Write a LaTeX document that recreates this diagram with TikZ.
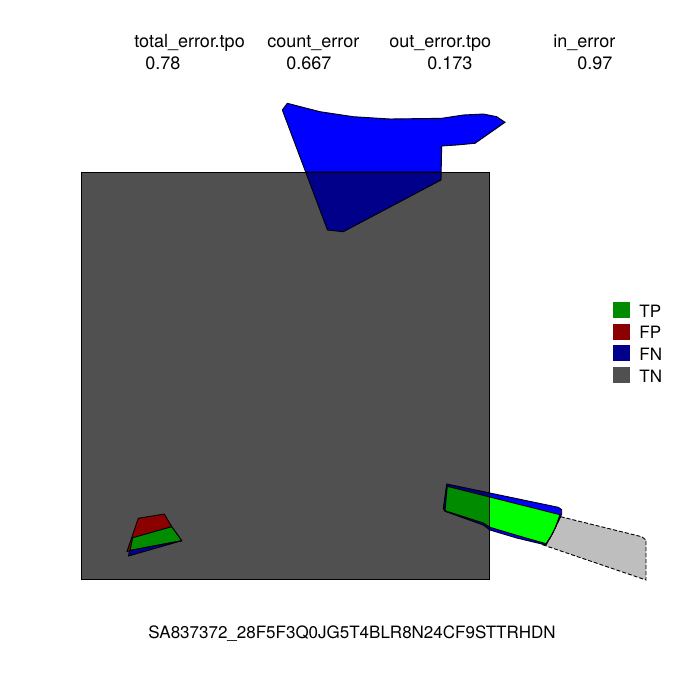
\documentclass[tikz,border=0pt]{standalone}
\usepackage{fontspec}
\setmainfont{TeX Gyre Heros}
\definecolor{tncol}{HTML}{505050}
\definecolor{fncol}{HTML}{00008B}
\definecolor{tpcol}{HTML}{008B00}
\definecolor{fpcol}{HTML}{8B0000}
\definecolor{lightgreen}{HTML}{00FF00}
\definecolor{lightgr}{HTML}{BEBEBE}
\newcommand{\TopPoly}[1]{\path[#1] (282.3,110) -- (287.3,103.3) -- (320,111.7) -- (353.3,116.7) -- (390,119) -- (441.7,118.3) -- (463.3,115) -- (483.3,114) -- (496.7,116.7) -- (505,122.3) -- (475,143.3) -- (456.7,145) -- (441.7,146) -- (441,180) -- (343.3,231.7) -- (327.5,230) -- cycle;}
\newcommand{\BRBlue}[1]{\path[#1] (446.7,484) -- (558.3,507.3) -- (561.7,509.7) -- (561.7,514) -- (555,528.3) -- (551.7,535) -- (546,545) -- (516.7,538) -- (490,530) -- (483.3,525) -- (445,511.3) -- (443.3,508.5) -- cycle;}
\newcommand{\BRGreen}[1]{\path[#1] (447.3,486.3) -- (560,514.7) -- (555,528.3) -- (551.7,535) -- (546,543.7) -- (516.7,535.3) -- (490,527.3) -- (483.3,523) -- (445,510.7) -- cycle;}
\begin{document}
\begin{tikzpicture}[x=0.5pt,y=-0.5pt,
  lbl/.style={anchor=base west,inner sep=0pt,font=\fontsize{8.5}{10}\selectfont},
  hlbl/.style={lbl,font=\fontsize{9}{10}\selectfont},
  edge/.style={draw=black,line width=0.45pt},
  legbox/.style={inner sep=0pt,minimum width=8.5pt,minimum height=8pt,anchor=north west}]
\useasboundingbox[fill=white] (0,0) rectangle (700,700);
% header
\node[hlbl] (h1) at (134,48) {total\_error.tpo};
\node[hlbl] (h2) at (267,48) {count\_error};
\node[hlbl] (h3) at (389,48) {out\_error.tpo};
\node[hlbl] (h4) at (553,48) {in\_error};
\node[hlbl] (v1) at (145,70) {0.78};
\node[hlbl] (v2) at (286,70) {0.667};
\node[hlbl] (v3) at (427,70) {0.173};
\node[hlbl] (v4) at (577,70) {0.97};
% TN square
\fill[tncol] (81,172) rectangle (489,579);
% top polygon
\TopPoly{fill=blue}
\begin{scope}
\clip (81,172) rectangle (489,579);
\TopPoly{fill=fncol}
\end{scope}
\TopPoly{edge}
% bottom-right shapes
\path[fill=lightgr,draw=black,line width=0.45pt,dash pattern=on 2pt off 1pt]
  (560.7,516.7) -- (641.7,536.7) -- (646,540) -- (646,580) -- (543.3,545) -- (546,544.7) -- (551.7,535) -- (555,528.3) -- cycle;
\BRBlue{fill=blue}
\BRGreen{fill=lightgreen}
\begin{scope}
\clip (81,172) rectangle (489,579);
\BRBlue{fill=fncol}
\BRGreen{fill=tpcol}
\end{scope}
\BRBlue{edge}
\BRGreen{edge}
% bottom-left shapes
\path[fill=fpcol,edge] (138.3,518.3) -- (164.3,514) -- (171.7,526.7) -- (181.7,540.7) -- (127,551.5) -- cycle;
\path[fill=tpcol,edge] (132.7,537.7) -- (171.7,526.7) -- (181.7,540.7) -- (130,550.5) -- cycle;
\path[fill=fncol,edge] (129.5,550.5) -- (181.7,540.7) -- (128.5,556) -- cycle;
% square border
\draw[line width=0.45pt] (81,172) rectangle (489,579);
% legend
\node[legbox,fill=tpcol] (ltp) at (613,302) {};
\node[legbox,fill=fpcol] (lfp) at (613,323.5) {};
\node[legbox,fill=fncol] (lfn) at (613,345) {};
\node[legbox,fill=tncol] (ltn) at (613,367) {};
\node[lbl] (ttp) at (639,317) {TP};
\node[lbl] (tfp) at (639,338.5) {FP};
\node[lbl] (tfn) at (639,360.5) {FN};
\node[lbl] (ttn) at (639,382.5) {TN};
% footer
\node[lbl] (foot) at (148,638) {SA837372\_28F5F3Q0JG5T4BLR8N24CF9STTRHDN};
\end{tikzpicture}
\end{document}
